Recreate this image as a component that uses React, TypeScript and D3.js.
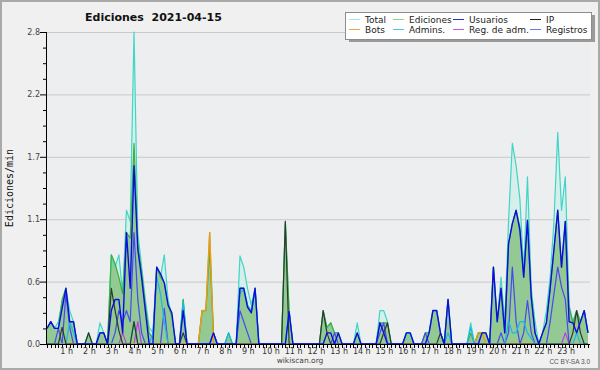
import * as d3 from 'd3';
import React from 'react';

const width = 600;
const height = 370;
const plot = { left: 46, right: 590, top: 32, bottom: 344 };

// one value every 10 minutes, 00:00 .. 23:50 (Ediciones/min)
const total = [
  0.14, 0.2, 0.14, 0.2, 0.38, 0.5, 0.3, 0.2, 0, 0, 0, 0.1,
  0, 0, 0.19, 0.1, 0, 0.8, 0.69, 0.8, 0.45, 1.2, 1.1, 2.8,
  1.0, 0.7, 0.4, 0.15, 0.1, 0.69, 0.6, 0.8, 0.4, 0.25, 0, 0,
  0.4, 0, 0, 0, 0, 0.3, 0.3, 1.0, 0.1, 0, 0, 0,
  0.1, 0, 0, 0.79, 0.69, 0.5, 0.35, 0.5, 0, 0, 0, 0,
  0, 0, 0, 1.1, 0.29, 0, 0, 0, 0, 0, 0, 0,
  0, 0.3, 0.15, 0.19, 0.1, 0.1, 0, 0, 0, 0, 0.19, 0,
  0, 0, 0, 0, 0.3, 0.3, 0.2, 0, 0, 0, 0, 0.1,
  0.1, 0, 0, 0, 0.1, 0.1, 0.3, 0.3, 0.1, 0, 0.4, 0,
  0, 0, 0, 0, 0.19, 0, 0.1, 0.1, 0.1, 0, 0.69, 0.2,
  0.6, 0.2, 1.1, 1.8, 1.6, 1.3, 0.65, 1.5, 0.5, 0.2, 0, 0.1,
  0.3, 0.6, 1.1, 1.9, 1.2, 1.5, 0.35, 0.2, 0.3, 0.2, 0.3, 0.1,
];

const ediciones = [
  0.14, 0.2, 0.14, 0.14, 0.4, 0.5, 0.2, 0.2, 0, 0, 0, 0.1,
  0, 0, 0.1, 0.1, 0, 0.8, 0.72, 0.6, 0.45, 1.0, 0.95, 1.8,
  0.9, 0.65, 0.35, 0.1, 0.05, 0.69, 0.6, 0.55, 0.35, 0.25, 0, 0,
  0.4, 0, 0, 0, 0, 0.3, 0.3, 0.85, 0.1, 0, 0, 0,
  0.1, 0, 0, 0.5, 0.5, 0.35, 0.28, 0.5, 0, 0, 0, 0,
  0, 0, 0, 1.08, 0.29, 0, 0, 0, 0, 0, 0, 0,
  0, 0.3, 0.15, 0.19, 0.1, 0.1, 0, 0, 0, 0, 0.1, 0,
  0, 0, 0, 0, 0.19, 0.19, 0.19, 0, 0, 0, 0, 0.1,
  0.1, 0, 0, 0, 0.1, 0.1, 0.3, 0.3, 0.1, 0, 0.4, 0,
  0, 0, 0, 0, 0.1, 0, 0.1, 0.1, 0.1, 0, 0.69, 0.2,
  0.5, 0.1, 0.9, 1.08, 1.2, 1.05, 0.6, 1.11, 0.42, 0.1, 0, 0.1,
  0.19, 0.5, 0.85, 1.2, 0.69, 1.1, 0.33, 0.19, 0.3, 0.2, 0.3, 0.1,
];

const usuarios = [
  0.14, 0.2, 0.14, 0.14, 0.32, 0.5, 0.2, 0.2, 0, 0, 0, 0,
  0, 0, 0.1, 0.1, 0, 0.3, 0.4, 0.4, 0.1, 1.0, 0.5, 1.6,
  0.85, 0.6, 0.3, 0, 0, 0.69, 0.63, 0.55, 0.35, 0.28, 0, 0,
  0.3, 0, 0, 0, 0, 0, 0, 0, 0.1, 0, 0, 0,
  0, 0, 0, 0.5, 0.5, 0.33, 0.28, 0.5, 0, 0, 0, 0,
  0, 0, 0, 0, 0.29, 0, 0, 0, 0, 0, 0, 0,
  0, 0, 0.1, 0.1, 0, 0.1, 0, 0, 0, 0, 0.1, 0,
  0, 0, 0, 0, 0.19, 0.1, 0, 0, 0, 0, 0, 0.1,
  0.1, 0, 0, 0, 0, 0.1, 0.3, 0.3, 0.1, 0, 0.4, 0,
  0, 0, 0, 0, 0, 0, 0, 0.1, 0.1, 0, 0.69, 0.2,
  0.5, 0.1, 0.9, 1.08, 1.2, 1.02, 0.6, 1.11, 0.42, 0.1, 0, 0.1,
  0.19, 0.5, 0.85, 1.2, 0.69, 1.1, 0.2, 0.19, 0.1, 0.2, 0.3, 0.1,
];

const ip = [
  0, 0, 0, 0, 0.15, 0, 0, 0, 0, 0, 0, 0.1,
  0, 0, 0, 0, 0, 0.5, 0.3, 0.12, 0, 0, 0, 0.2,
  0, 0, 0, 0, 0, 0, 0, 0, 0, 0, 0, 0,
  0.1, 0, 0, 0, 0, 0, 0, 0, 0, 0, 0, 0,
  0, 0, 0, 0, 0, 0, 0, 0, 0, 0, 0, 0,
  0, 0, 0, 1.1, 0, 0, 0, 0, 0, 0, 0, 0,
  0, 0.3, 0.1, 0, 0, 0, 0, 0, 0, 0, 0, 0,
  0, 0, 0, 0, 0, 0.1, 0.19, 0, 0, 0, 0, 0,
  0, 0, 0, 0, 0, 0, 0, 0, 0.1, 0, 0, 0,
  0, 0, 0, 0, 0, 0, 0, 0, 0, 0, 0, 0,
  0, 0, 0, 0, 0, 0, 0, 0, 0, 0, 0, 0,
  0, 0, 0, 0, 0, 0, 0, 0.1, 0.3, 0.1, 0, 0,
];

const bots = [
  0, 0, 0, 0, 0, 0, 0, 0, 0, 0, 0, 0,
  0, 0, 0, 0, 0, 0, 0, 0, 0, 0, 0, 0,
  0, 0, 0, 0, 0, 0, 0, 0, 0, 0, 0, 0,
  0, 0, 0, 0, 0, 0.3, 0.3, 1.0, 0, 0, 0, 0,
  0, 0, 0, 0, 0, 0, 0, 0, 0, 0, 0, 0,
  0, 0, 0, 0, 0, 0, 0, 0, 0, 0, 0, 0,
  0, 0, 0, 0, 0, 0, 0, 0, 0, 0, 0, 0,
  0, 0, 0, 0, 0, 0, 0, 0, 0, 0, 0, 0,
  0, 0, 0, 0, 0, 0, 0, 0, 0, 0, 0, 0,
  0, 0, 0, 0, 0, 0, 0.1, 0.1, 0, 0, 0, 0,
  0, 0, 0, 0, 0, 0, 0, 0, 0, 0, 0, 0,
  0, 0, 0, 0, 0, 0, 0, 0, 0, 0, 0, 0,
];

const admins = [
  0, 0, 0, 0, 0, 0, 0.2, 0.1, 0, 0, 0, 0,
  0, 0, 0, 0, 0, 0, 0, 0, 0, 0, 0, 0.2,
  0, 0, 0, 0, 0.1, 0.6, 0.45, 0.2, 0, 0, 0, 0,
  0.38, 0, 0, 0, 0, 0, 0, 0, 0, 0, 0, 0,
  0.1, 0, 0, 0.45, 0.5, 0.35, 0.3, 0.5, 0, 0, 0, 0,
  0, 0, 0, 0, 0.29, 0, 0, 0, 0, 0, 0, 0,
  0, 0, 0, 0, 0, 0, 0, 0, 0, 0, 0, 0,
  0, 0, 0, 0, 0, 0, 0, 0, 0, 0, 0, 0.1,
  0.1, 0, 0, 0, 0, 0, 0, 0, 0, 0, 0.1, 0,
  0, 0, 0, 0, 0.15, 0, 0, 0, 0, 0, 0, 0,
  0, 0, 0.21, 0.1, 0.1, 0.2, 0.2, 0.1, 0.05, 0, 0, 0,
  0, 0, 0, 0, 0, 0, 0, 0, 0.1, 0, 0, 0,
];

const regAdm = [
  0, 0, 0, 0, 0, 0, 0, 0, 0, 0, 0, 0,
  0, 0, 0, 0, 0, 0, 0, 0, 0.1, 0, 0, 0,
  0.2, 0, 0, 0, 0, 0, 0, 0, 0, 0, 0, 0,
  0, 0, 0, 0, 0, 0, 0, 0, 0, 0, 0, 0,
  0, 0, 0, 0, 0, 0, 0, 0, 0, 0, 0, 0,
  0, 0, 0, 0, 0, 0, 0, 0, 0, 0, 0, 0,
  0, 0, 0, 0, 0, 0, 0, 0, 0, 0, 0, 0,
  0, 0, 0, 0, 0, 0, 0, 0, 0, 0, 0, 0,
  0, 0, 0, 0, 0, 0, 0, 0, 0, 0, 0, 0,
  0, 0, 0, 0, 0, 0, 0, 0, 0, 0, 0, 0,
  0, 0, 0, 0, 0, 0, 0, 0, 0, 0, 0, 0,
  0, 0, 0, 0, 0, 0.1, 0, 0, 0, 0, 0, 0,
];

const registros = [
  0, 0, 0, 0.14, 0, 0.45, 0.15, 0, 0, 0, 0, 0,
  0, 0, 0.1, 0.1, 0, 0, 0.1, 0.3, 0.2, 0.3, 0.2, 1.0,
  0.4, 0.1, 0, 0, 0, 0, 0, 0.32, 0, 0, 0, 0,
  0, 0, 0, 0, 0, 0, 0, 0, 0.1, 0, 0, 0,
  0, 0, 0, 0.3, 0.2, 0.1, 0, 0, 0, 0, 0, 0,
  0, 0, 0, 0, 0, 0, 0, 0, 0, 0, 0, 0,
  0, 0, 0, 0, 0.1, 0, 0, 0, 0, 0, 0, 0,
  0, 0, 0, 0, 0.1, 0.19, 0, 0, 0, 0, 0, 0,
  0, 0, 0, 0, 0.1, 0, 0, 0, 0, 0, 0, 0,
  0, 0, 0, 0, 0, 0, 0, 0, 0, 0, 0, 0,
  0.1, 0, 0.1, 0.69, 0.2, 0, 0.1, 0.39, 0.1, 0, 0, 0,
  0, 0.2, 0.45, 0.69, 0.51, 0.4, 0, 0, 0, 0, 0, 0,
];

const hourLabels = [
  '1 h', '2 h', '3 h', '4 h', '5 h', '6 h', '7 h', '8 h', '9 h', '10 h', '11 h', '12 h',
  '13 h', '14 h', '15 h', '16 h', '17 h', '18 h', '19 h', '20 h', '21 h', '22 h', '23 h',
];
const yTicks = [0, 0.56, 1.12, 1.68, 2.24, 2.8];

const legendNames = ['Total', 'Ediciones', 'Usuarios', 'IP', 'Bots', 'Admins.', 'Reg. de adm.', 'Registros'];
const legendColors = ['#a6e6de', '#8ed68e', '#2a2ad6', '#1e1e1e', '#f2a640', '#48c8e2', '#c458e0', '#7474f0'];
const legendCols = [349, 393, 453, 530];

const x = d3.scaleLinear().domain([0, 143]).range([47, 588]);
const y = d3.scaleLinear().domain([0, 2.8]).range([plot.bottom, plot.top]);

const area = d3
  .area<number>()
  .x((d, i) => x(i))
  .y0(y(0))
  .y1(d => y(d));
const line = d3
  .line<number>()
  .x((d, i) => x(i))
  .y(d => y(d));

export default function App() {
  const minorY = d3.range(0, 2.8001, 0.14);
  const xTicks = d3.range(0, 144);
  const font = 'DejaVu Sans, sans-serif';

  // draw order: lower layers first
  const lines: [number[], string, number][] = [
    [total, '#3fd6c6', 1.2],
    [ediciones, '#3cb03c', 1.2],
    [regAdm, '#c03ee0', 1.2],
    [registros, '#4848f0', 1.2],
    [bots, '#f09a10', 1.4],
    [admins, '#1ab8e4', 1.2],
    [ip, '#2e3a2e', 1.2],
    [usuarios, '#0c0ce0', 1.4],
  ];

  return (
    <svg width={width} height={height} style={{ position: 'absolute', left: 0, top: 0 }}>
      <rect x={0} y={0} width={width} height={height} fill="#f0f0f0" />
      <rect x={1} y={1} width={width - 2} height={height - 2} fill="none" stroke="#a9a9a9" strokeWidth={2} />
      <rect
        x={plot.left}
        y={plot.top}
        width={plot.right - plot.left}
        height={plot.bottom - plot.top}
        fill="#edeef0"
      />

      {yTicks.map(t => (
        <line key={'g' + t} x1={plot.left} x2={plot.right} y1={y(t) + 0.5} y2={y(t) + 0.5} stroke="#c9c9c9" />
      ))}

      <defs>
        <clipPath id="plotclip">
          <rect x={plot.left} y={plot.top - 2} width={plot.right - plot.left} height={plot.bottom - plot.top + 2} />
        </clipPath>
      </defs>
      <g clipPath="url(#plotclip)">
        <path d={area(total) || ''} fill="#d6efea" />
        <path d={area(ediciones) || ''} fill="#93c993" />
        {lines.map(([data, color, w], k) => (
          <path key={k} d={line(data) || ''} fill="none" stroke={color} strokeWidth={w} strokeLinejoin="round" />
        ))}
      </g>

      {/* y axis */}
      <line x1={plot.left + 0.5} x2={plot.left + 0.5} y1={plot.top} y2={plot.bottom + 1} stroke="#000" />
      {minorY.map((t, k) => (
        <line
          key={'m' + k}
          x1={k % 4 === 0 ? plot.left - 6 : plot.left - 3}
          x2={plot.left}
          y1={y(t) + 0.5}
          y2={y(t) + 0.5}
          stroke="#000"
        />
      ))}
      {yTicks.map(t => (
        <text key={'l' + t} x={plot.left - 6} y={y(t) + 3} fontSize={8} fontFamily={font} fill="#444" textAnchor="end">
          {t.toFixed(1)}
        </text>
      ))}
      <text
        transform={`translate(13, ${(plot.top + plot.bottom) / 2}) rotate(-90)`}
        fontSize={10}
        fontFamily="DejaVu Sans Mono, monospace"
        textAnchor="middle"
        fill="#111"
      >
        Ediciones/min
      </text>

      {/* x axis */}
      <line x1={plot.left} x2={plot.right} y1={plot.bottom + 0.5} y2={plot.bottom + 0.5} stroke="#000" />
      {xTicks.map(i => (
        <line key={'t' + i} x1={Math.round(x(i)) + 0.5} x2={Math.round(x(i)) + 0.5} y1={plot.bottom} y2={plot.bottom + 4} stroke="#000" />
      ))}
      {hourLabels.map((h, k) => (
        <text key={h} x={x((k + 1) * 6) - 3} y={354} fontSize={8} fontFamily={font} fill="#333" textAnchor="middle">
          {h}
        </text>
      ))}
      <text x={300} y={363} fontSize={7.5} fontFamily={font} fill="#444" textAnchor="middle">
        wikiscan.org
      </text>
      <text x={590} y={364} fontSize={6.5} fontFamily="Liberation Sans, sans-serif" fill="#555" textAnchor="end">
        CC BY-SA 3.0
      </text>

      {/* title */}
      <text x={85} y={21} fontSize={11} fontWeight="bold" fontFamily={font} fill="#111" style={{ whiteSpace: 'pre' }}>
        {'Ediciones  2021-04-15'}
      </text>

      {/* legend */}
      <rect x={349} y={15} width={246} height={27} fill="#9a9a9a" />
      <rect x={345.5} y={12.5} width={246} height={27} fill="#fff" stroke="#8c8c8c" />
      {legendNames.map((n, k) => {
        const cx = legendCols[k % 4];
        const cy = k < 4 ? 19.5 : 29.5;
        return (
          <g key={n}>
            <line x1={cx} x2={cx + 11} y1={cy} y2={cy} stroke={legendColors[k]} strokeWidth={1} />
            <text x={cx + 16} y={cy + 3.5} fontSize={9} fontFamily={font} fill="#222">
              {n}
            </text>
          </g>
        );
      })}
    </svg>
  );
}
